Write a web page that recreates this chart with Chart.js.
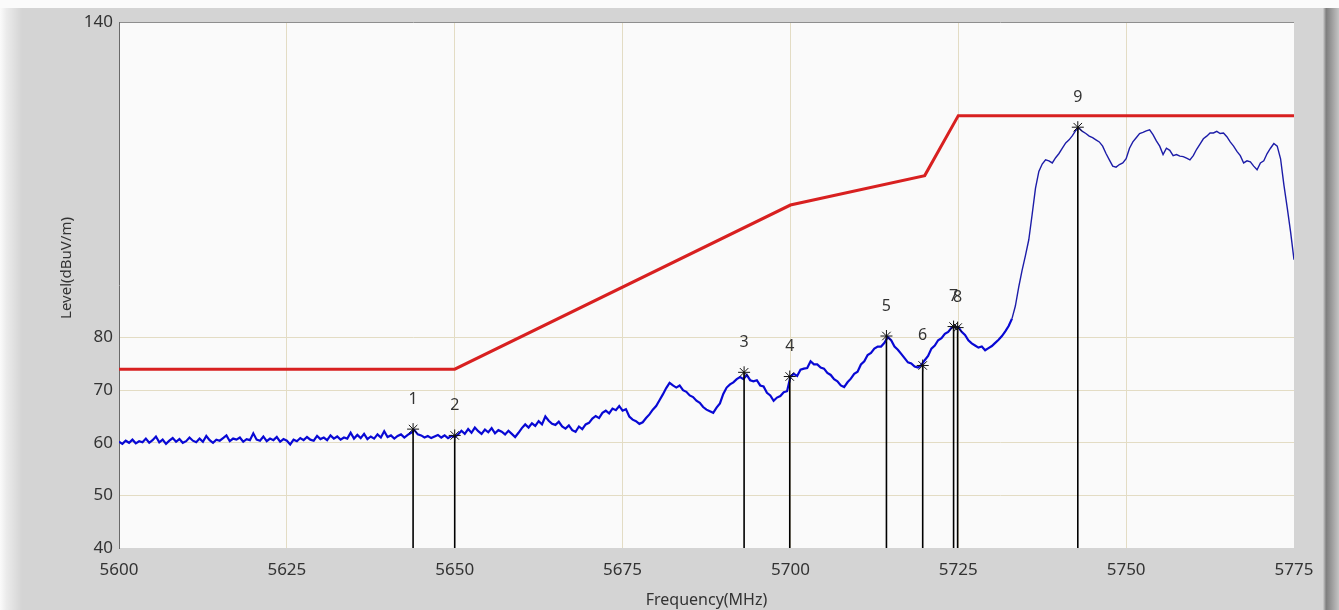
<!DOCTYPE html>
<html>
<head>
<meta charset="utf-8">
<script src="https://cdn.jsdelivr.net/npm/chart.js@4.4.1/dist/chart.umd.min.js"></script>
<style>
  html, body { margin: 0; padding: 0; background: #d4d4d4; }
  #wrap { position: relative; width: 1339px; height: 610px; }
</style>
</head>
<body>
<div id="wrap"><canvas id="chart" width="1339" height="610"></canvas></div>
<script>
// sweep: one reading every 0.5 MHz from 5600 to 5775
const sweepStart = 5600;
const sweepStep = 0.5;
const traceLevel = [
  60.2, 59.8, 60.4, 60.0, 60.6, 59.9, 60.3, 60.1, 60.8, 60.0,
  60.5, 61.2, 60.1, 60.6, 59.8, 60.4, 60.9, 60.2, 60.7, 60.0,
  60.3, 61.0, 60.4, 60.1, 60.8, 60.2, 61.3, 60.5, 60.0, 60.6,
  60.4, 60.9, 61.4, 60.3, 60.8, 60.6, 61.0, 60.2, 60.7, 60.5,
  61.8, 60.6, 60.4, 61.2, 60.3, 60.8, 60.5, 61.1, 60.2, 60.7,
  60.4, 59.7, 60.6, 60.3, 60.9, 60.5, 61.1, 60.6, 60.4, 61.3,
  60.7, 61.0, 60.5, 61.4, 60.8, 61.2, 60.6, 61.0, 60.8, 61.9,
  60.8, 61.5, 60.9, 61.7, 60.7, 61.2, 60.8, 61.6, 61.0, 62.2,
  61.1, 61.4, 60.8, 61.3, 61.6, 61.0, 61.5, 61.9, 62.4, 61.6,
  61.4, 61.0, 61.3, 60.9, 61.2, 61.5, 61.0, 61.4, 60.9, 61.3,
  61.1, 61.6, 62.3, 61.7, 62.6, 61.9, 62.9, 62.2, 61.7, 62.5,
  62.0, 62.8, 61.8, 62.4, 62.1, 61.6, 62.3, 61.7, 61.1, 61.9,
  62.8, 63.5, 62.9, 63.7, 63.2, 64.1, 63.5, 65.0, 64.2, 63.6,
  63.4, 64.0, 63.1, 62.7, 63.3, 62.4, 62.1, 63.1, 62.6, 63.5,
  63.8, 64.6, 65.1, 64.7, 65.7, 66.1, 65.6, 66.5, 66.2, 67.0,
  66.1, 66.4, 65.0, 64.4, 64.1, 63.6, 63.9, 64.7, 65.4, 66.3,
  67.0, 68.1, 69.2, 70.4, 71.4, 70.9, 70.5, 70.9, 70.0, 69.7,
  69.0, 68.7, 68.0, 67.6, 66.8, 66.3, 66.0, 65.7, 66.7, 67.5,
  69.3, 70.5, 71.1, 71.5, 72.1, 72.5, 72.1, 72.9, 71.9, 71.7,
  71.9, 70.9, 70.7, 69.5, 69.0, 68.0, 68.6, 68.9, 69.6, 69.8,
  72.6, 73.1, 72.7, 73.9, 74.1, 74.2, 75.5, 74.9, 74.9, 74.3,
  74.1, 73.3, 72.9, 72.1, 71.7, 70.9, 70.6, 71.5, 72.2, 73.1,
  73.5, 74.9, 75.5, 76.7, 77.1, 77.9, 78.3, 78.3, 79.0, 80.1,
  79.5, 78.3, 77.7, 76.9, 76.1, 75.3, 75.1, 74.5, 74.3, 74.8,
  75.7, 76.5, 77.9, 78.5, 79.5, 79.9, 80.7, 81.1, 81.9, 82.1,
  82.0, 81.1, 80.5, 79.5, 78.9, 78.5, 78.1, 78.3, 77.6, 78.0,
  78.4, 79.0, 79.6, 80.3, 81.2, 82.2, 83.6, 86.0, 89.6, 92.8,
  95.6, 98.6, 103.4, 108.4, 111.6, 113.0, 113.8, 113.6, 113.2, 114.2,
  115.0, 116.0, 117.0, 117.6, 118.4, 119.4, 119.8, 119.2, 118.8, 118.3,
  118.0, 117.6, 117.2, 116.4, 115.0, 113.8, 112.6, 112.4, 112.9, 113.2,
  114.0, 116.0, 117.2, 118.0, 118.8, 119.0, 119.3, 119.5, 118.6, 117.4,
  116.4, 114.8, 116.0, 115.6, 114.6, 114.8, 114.5, 114.4, 114.1, 113.8,
  114.6, 115.8, 116.8, 117.8, 118.3, 118.9, 118.9, 119.2, 118.8, 118.9,
  118.2, 117.2, 116.4, 115.4, 114.6, 113.2, 113.6, 113.4, 112.6, 111.9,
  113.2, 113.6, 115.0, 116.0, 116.9, 116.4, 114.0, 109.0, 104.6, 100.0,
  94.8
];

// limit line
const limitFreq = [5600, 5650, 5700, 5720, 5725, 5775];
const limitLevel = [74, 74, 105.2, 110.8, 122.2, 122.2];

// peak markers
const markerNames = ['1', '2', '3', '4', '5', '6', '7', '8', '9'];
const markerFreq = [5643.8, 5650.0, 5693.1, 5699.9, 5714.3, 5719.7, 5724.3, 5724.9, 5742.8];
const markerLevel = [62.6, 61.4, 73.4, 72.6, 80.3, 74.7, 82.1, 81.9, 120.0];

// axes
const xTicks = [5600, 5625, 5650, 5675, 5700, 5725, 5750, 5775];
const yTicks = [40, 50, 60, 70, 80, 140];
const xTitle = 'Frequency(MHz)';
const yTitle = 'Level(dBuV/m)';

const FONT = '"Noto Sans", "DejaVu Sans", sans-serif';

const tracePoints = traceLevel.map((v, i) => ({ x: sweepStart + i * sweepStep, y: v }));
const limitPoints = limitFreq.map((f, i) => ({ x: f, y: limitLevel[i] }));
const markerPoints = markerFreq.map((f, i) => ({ x: f, y: markerLevel[i] }));
const stemPoints = markerFreq.flatMap((f, i) => [
  { x: f, y: yTicks[0] }, { x: f, y: markerLevel[i] }, { x: f, y: null }
]);

const panel = {
  id: 'panel',
  beforeDraw(chart) {
    const { ctx, width, height, chartArea } = chart;
    ctx.save();
    ctx.fillStyle = '#d4d4d4';
    ctx.fillRect(0, 0, width, height);
    ctx.fillStyle = '#fbfbfb';
    ctx.fillRect(0, 0, width, 8);
    let g = ctx.createLinearGradient(0, 0, 22, 0);
    g.addColorStop(0, '#fbfbfb');
    g.addColorStop(0.3, '#ebebeb');
    g.addColorStop(1, '#d4d4d4');
    ctx.fillStyle = g;
    ctx.fillRect(0, 8, 22, height - 8);
    g = ctx.createLinearGradient(1323, 0, 1339, 0);
    g.addColorStop(0, '#d0d0d0');
    g.addColorStop(0.2, '#7e7e7e');
    g.addColorStop(1, '#c4c4c4');
    ctx.fillStyle = g;
    ctx.fillRect(1323, 8, 16, height - 8);
    ctx.fillStyle = '#fafafa';
    ctx.fillRect(chartArea.left, chartArea.top, chartArea.right - chartArea.left, chartArea.bottom - chartArea.top);
    ctx.restore();
  }
};

// marker numbers and the rotated y title
const labels = {
  id: 'labels',
  afterDatasetsDraw(chart) {
    const meta = chart.getDatasetMeta(0);
    const ctx = chart.ctx;
    ctx.save();
    ctx.font = '16px ' + FONT;
    ctx.fillStyle = '#333';
    ctx.textAlign = 'center';
    ctx.textBaseline = 'middle';
    meta.data.forEach((pt, i) => ctx.fillText(markerNames[i], pt.x, pt.y - 30));
    ctx.translate(67, 268);
    ctx.rotate(-Math.PI / 2);
    ctx.font = '15px ' + FONT;
    ctx.fillText(yTitle, 0, 0);
    ctx.restore();
  }
};

new Chart(document.getElementById('chart'), {
  type: 'line',
  data: {
    datasets: [
      {
        data: markerPoints,
        showLine: false,
        pointStyle: 'star',
        pointRadius: 6,
        borderColor: '#111',
        backgroundColor: '#111',
        borderWidth: 1
      },
      {
        data: stemPoints,
        borderColor: '#000',
        borderWidth: 1.6,
        pointRadius: 0,
        spanGaps: false
      },
      {
        data: limitPoints,
        borderColor: '#d82020',
        borderWidth: 3,
        pointRadius: 0,
        tension: 0
      },
      {
        data: tracePoints,
        borderColor: '#0a0ad0',
        borderWidth: 1.5,
        pointRadius: 0,
        tension: 0,
        segment: {
          borderWidth: c => c.p0.parsed.x < 5733 ? 2.2 : 1.4,
          borderColor: c => c.p0.parsed.x < 5733 ? '#0808d4' : '#1c1ca8'
        }
      }
    ]
  },
  options: {
    responsive: false,
    animation: false,
    events: [],
    layout: { padding: { left: 55, top: 22, right: 45, bottom: 0 } },
    plugins: {
      legend: { display: false },
      tooltip: { enabled: false }
    },
    scales: {
      x: {
        type: 'linear',
        min: 5600, max: 5775,
        afterBuildTicks: axis => { axis.ticks = xTicks.map(v => ({ value: v })); },
        afterFit: axis => { axis.height = 62; },
        ticks: { padding: 12, color: '#333', font: { family: FONT, size: 17 }, callback: v => String(v) },
        grid: {
          drawTicks: false,
          color: c => (c.tick.value === 5600 || c.tick.value === 5775) ? 'rgba(0,0,0,0)' : '#e3dcc4'
        },
        border: { display: false },
        title: {
          display: true, text: xTitle, color: '#333',
          font: { family: FONT, size: 16 }, padding: { top: 0, bottom: 0 }
        }
      },
      y: {
        min: 40, max: 140,
        afterBuildTicks: axis => { axis.ticks = yTicks.map(v => ({ value: v })); },
        afterFit: axis => { axis.width = 64; },
        ticks: { padding: 6, color: '#333', font: { family: FONT, size: 17 } },
        grid: {
          drawTicks: false,
          color: c => c.tick.value === 140 ? '#8e8e8e' : (c.tick.value === 40 ? 'rgba(0,0,0,0)' : '#e3dcc4')
        },
        border: { display: true, color: '#6a6a6a', width: 1 }
      }
    }
  },
  plugins: [panel, labels]
});
</script>
</body>
</html>
